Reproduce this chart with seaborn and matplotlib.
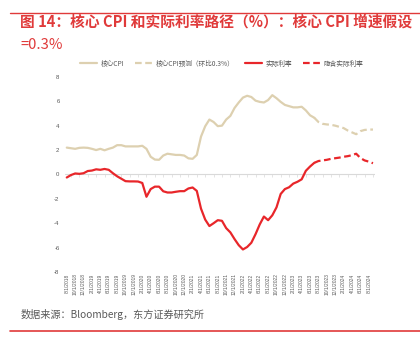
import matplotlib
matplotlib.use("Agg")
import matplotlib.pyplot as plt
import seaborn as sns
import pandas as pd

# monthly, 8/2018 .. 9/2024
months = pd.date_range("2018-08-01", periods=74, freq="MS")
tick_labels = [f"{m.month}/1/{m.year}" for m in months][::2]

core_cpi = [
  2.2, 2.15, 2.1, 2.18, 2.2, 2.18, 2.1, 2.0, 2.1, 1.98,
  2.1, 2.2, 2.4, 2.4, 2.3, 2.3, 2.3, 2.3, 2.35, 2.1,
  1.45, 1.22, 1.2, 1.55, 1.7, 1.65, 1.6, 1.6, 1.55, 1.32,
  1.28, 1.6, 3.1, 3.95, 4.5, 4.3, 3.96, 4.0, 4.5, 4.8,
  5.45, 5.9, 6.3, 6.45, 6.35, 6.05, 5.95, 5.9, 6.1, 6.5,
  6.25, 5.95, 5.7, 5.6, 5.5, 5.5, 5.55, 5.25, 4.85, 4.65,
]
core_cpi_fcst = [
  4.65, 4.3, 4.15, 4.1, 4.07, 4.0, 3.9, 3.8, 3.6, 3.45,
  3.3, 3.55, 3.65, 3.68, 3.68,
]
real_rate = [
  -0.25, -0.05, 0.08, 0.05, 0.1, 0.28, 0.32, 0.42, 0.38, 0.45,
  0.38, 0.1, -0.15, -0.35, -0.55, -0.57, -0.57, -0.58, -0.7, -1.83,
  -1.2, -1.0, -1.0, -1.38, -1.48, -1.48, -1.42, -1.37, -1.37, -1.15,
  -1.07, -1.35, -2.8, -3.7, -4.23, -4.0, -3.75, -3.8, -4.4, -4.75,
  -5.3, -5.8, -6.15, -5.95, -5.6, -4.9, -4.1, -3.45, -3.75, -3.35,
  -2.7, -1.6, -1.2, -1.05, -0.75, -0.6, -0.4, 0.3, 0.65, 0.95,
]
real_rate_fcst = [
  0.95, 1.1, 1.15, 1.2, 1.28, 1.33, 1.38, 1.45, 1.5, 1.58,
  1.7, 1.35, 1.15, 1.05, 0.92,
]

hist_x = list(range(len(core_cpi)))
fcst_x = list(range(len(core_cpi) - 1, len(core_cpi) - 1 + len(core_cpi_fcst)))

sns.set_theme(style="white")
plt.rcParams["font.family"] = ["Noto Sans CJK SC", "DejaVu Sans"]

beige = "#DDD0B0"
red = "#E8262A"
grey = "#595959"
title_red = "#E03A3A"

fig = plt.figure(figsize=(4.2, 3.51), dpi=100)
ax = fig.add_axes([0.155, 0.225, 0.738, 0.556])

# zero axis line with small ticks (drawn first, under the data)
ax.axhline(0, color="#D9D9D9", lw=0.8, zorder=1)
zero_ax = ax.secondary_xaxis(0.5)
zero_ax.set_xticks([t - 1 for t in range(0, 76, 2)])
zero_ax.set_xticklabels([])
zero_ax.tick_params(axis="both", length=2, width=0.5, color="#D9D9D9", direction="in")
for sp in zero_ax.spines.values():
  sp.set_visible(False)

sns.lineplot(x=hist_x, y=core_cpi, ax=ax, color=beige, lw=1.6, label="核心CPI")
sns.lineplot(x=fcst_x, y=core_cpi_fcst, ax=ax, color=beige, lw=1.6,
             label="核心CPI预测（环比0.3%）")
sns.lineplot(x=hist_x, y=real_rate, ax=ax, color=red, lw=1.6, label="实际利率")
sns.lineplot(x=fcst_x, y=real_rate_fcst, ax=ax, color=red, lw=1.6,
             label="隐含实际利率")
data_lines = [l for l in ax.lines if l.get_label() and not l.get_label().startswith("_")]
data_lines[1].set_dashes((3, 1.6))
data_lines[3].set_dashes((3, 1.6))

ax.set_xlim(-0.4, 73.5)
ax.set_ylim(-8, 8)
ax.set_yticks(range(-8, 9, 2))
ax.set_yticklabels([str(v) for v in range(-8, 9, 2)],
                   fontsize=4.3, color=grey, family="Liberation Sans")
ax.tick_params(axis="y", length=0, pad=4)
ax.set_xticks(range(0, 74, 2))
ax.set_xticklabels(tick_labels, rotation=90, fontsize=3.5, color=grey,
                   family="Liberation Sans")
ax.tick_params(axis="x", length=0, pad=1)
for s in ax.spines.values():
  s.set_visible(False)

ax.legend(
  loc="center", bbox_to_anchor=(0.505, 1.067), ncol=4, frameon=False,
  fontsize=4.8, handlelength=2.6, columnspacing=1.6, handletextpad=0.5,
  labelcolor=grey,
)

fig.text(0.048, 0.94, "图 14：核心 CPI 和实际利率路径（%）：核心 CPI 增速假设",
         color=title_red, fontsize=10.6, fontweight="bold", va="center")
fig.text(0.048, 0.872, "=0.3%", color=title_red, fontsize=10.6, va="center")
fig.text(0.048, 0.103, "数据来源：Bloomberg，东方证券研究所",
         color=grey, fontsize=7.3, va="center")
fig.add_artist(plt.Line2D([0.024, 1.0], [0.963, 0.963], color=title_red, lw=1.0))
fig.add_artist(plt.Line2D([0.024, 1.0], [0.057, 0.057], color=title_red, lw=1.2))

fig.savefig("out.png", dpi=100)
